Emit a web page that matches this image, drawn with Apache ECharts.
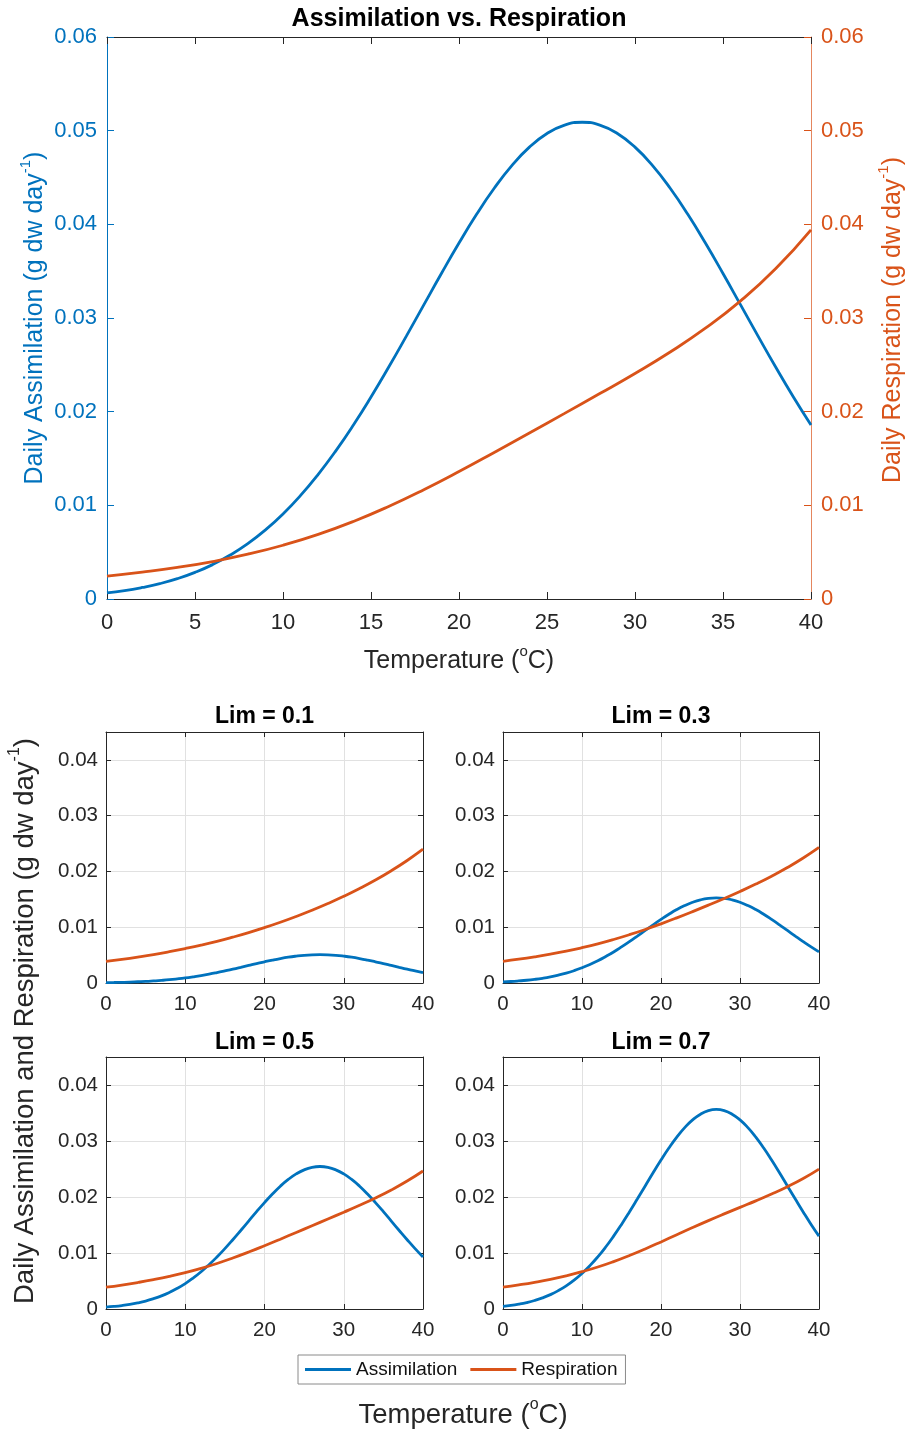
<!DOCTYPE html>
<html>
<head>
<meta charset="utf-8">
<title>Assimilation vs. Respiration</title>
<script src="https://cdn.jsdelivr.net/npm/echarts@6/dist/echarts.min.js"></script>
<style>
  html, body { margin: 0; padding: 0; background: #ffffff; }
  #chart { width: 909px; height: 1431px; }
</style>
</head>
<body>
<div id="chart"></div>
<script>
// Temperature samples (°C): 1-degree steps for assimilation, 2-degree steps for respiration
const tempAssim = [0, 1, 2, 3, 4, 5, 6, 7, 8, 9, 10, 11, 12, 13, 14, 15, 16, 17, 18, 19, 20,
                   21, 22, 23, 24, 25, 26, 27, 28, 29, 30, 31, 32, 33, 34, 35, 36, 37, 38, 39, 40];
const tempResp = [0, 2, 4, 6, 8, 10, 12, 14, 16, 18, 20, 22, 24, 26, 28, 30, 32, 34, 36, 38, 40];

// Unlimited case (top panel), g dw day^-1
const assimTop = [0.00066, 0.00090, 0.00123, 0.00164, 0.00217, 0.00284, 0.00367, 0.00469, 0.00591, 0.00737, 0.00908,
                  0.01106, 0.01331, 0.01582, 0.01858, 0.02157, 0.02474, 0.02804, 0.03140, 0.03475, 0.03800,
                  0.04107, 0.04385, 0.04627, 0.04824, 0.04970, 0.05060, 0.05090, 0.05060, 0.04970, 0.04824,
                  0.04627, 0.04385, 0.04107, 0.03800, 0.03475, 0.03140, 0.02804, 0.02474, 0.02157, 0.01858];
const respTop  = [0.00245, 0.00287, 0.00337, 0.00400, 0.00478, 0.00574, 0.00690, 0.00828, 0.00988, 0.01167, 0.01361,
                  0.01565, 0.01773, 0.01982, 0.02193, 0.02408, 0.02637, 0.02891, 0.03183, 0.03528, 0.03941];

// Limitation factors for the four small panels
const limits = ['Lim = 0.1', 'Lim = 0.3', 'Lim = 0.5', 'Lim = 0.7'];

const assimLim01 = [0.00007, 0.00009, 0.00012, 0.00016, 0.00022, 0.00028, 0.00037, 0.00047, 0.00059, 0.00074, 0.00091,
                    0.00111, 0.00133, 0.00158, 0.00186, 0.00216, 0.00247, 0.00280, 0.00314, 0.00348, 0.00380,
                    0.00411, 0.00439, 0.00463, 0.00482, 0.00497, 0.00506, 0.00509, 0.00506, 0.00497, 0.00482,
                    0.00463, 0.00439, 0.00411, 0.00380, 0.00348, 0.00314, 0.00280, 0.00247, 0.00216, 0.00186];
const respLim01  = [0.00387, 0.00424, 0.00465, 0.00510, 0.00561, 0.00617, 0.00678, 0.00746, 0.00822, 0.00904, 0.00993,
                    0.01089, 0.01193, 0.01305, 0.01425, 0.01554, 0.01694, 0.01846, 0.02013, 0.02196, 0.02398];

const assimLim03 = [0.00020, 0.00027, 0.00037, 0.00049, 0.00065, 0.00085, 0.00110, 0.00141, 0.00177, 0.00221, 0.00273,
                    0.00332, 0.00399, 0.00475, 0.00557, 0.00647, 0.00742, 0.00841, 0.00942, 0.01043, 0.01140,
                    0.01232, 0.01316, 0.01388, 0.01447, 0.01491, 0.01518, 0.01527, 0.01518, 0.01491, 0.01447,
                    0.01388, 0.01316, 0.01232, 0.01140, 0.01043, 0.00942, 0.00841, 0.00742, 0.00647, 0.00557];
const respLim03  = [0.00388, 0.00426, 0.00469, 0.00517, 0.00571, 0.00633, 0.00702, 0.00780, 0.00866, 0.00960, 0.01061,
                    0.01168, 0.01280, 0.01396, 0.01516, 0.01641, 0.01773, 0.01915, 0.02070, 0.02241, 0.02431];

const assimLim05 = [0.00033, 0.00045, 0.00061, 0.00082, 0.00109, 0.00142, 0.00184, 0.00234, 0.00296, 0.00369, 0.00454,
                    0.00553, 0.00665, 0.00791, 0.00929, 0.01078, 0.01237, 0.01402, 0.01570, 0.01738, 0.01900,
                    0.02053, 0.02193, 0.02313, 0.02412, 0.02485, 0.02530, 0.02545, 0.02530, 0.02485, 0.02412,
                    0.02313, 0.02193, 0.02053, 0.01900, 0.01738, 0.01570, 0.01402, 0.01237, 0.01078, 0.00929];
const respLim05  = [0.00389, 0.00428, 0.00473, 0.00524, 0.00582, 0.00649, 0.00726, 0.00813, 0.00911, 0.01017, 0.01130,
                    0.01247, 0.01367, 0.01487, 0.01607, 0.01728, 0.01852, 0.01983, 0.02126, 0.02285, 0.02464];

const assimLim07 = [0.00046, 0.00063, 0.00086, 0.00115, 0.00152, 0.00199, 0.00257, 0.00328, 0.00414, 0.00516, 0.00636,
                    0.00774, 0.00931, 0.01107, 0.01301, 0.01510, 0.01732, 0.01963, 0.02198, 0.02433, 0.02660,
                    0.02875, 0.03070, 0.03239, 0.03377, 0.03479, 0.03542, 0.03563, 0.03542, 0.03479, 0.03377,
                    0.03239, 0.03070, 0.02875, 0.02660, 0.02433, 0.02198, 0.01963, 0.01732, 0.01510, 0.01301];
const respLim07  = [0.00390, 0.00431, 0.00477, 0.00530, 0.00593, 0.00666, 0.00750, 0.00847, 0.00955, 0.01073, 0.01198,
                    0.01326, 0.01454, 0.01578, 0.01698, 0.01815, 0.01931, 0.02052, 0.02183, 0.02330, 0.02498];

// Tick values
const topTempTicks = [0, 5, 10, 15, 20, 25, 30, 35, 40];
const topRateTicks = [0, 0.01, 0.02, 0.03, 0.04, 0.05, 0.06];
const subTempTicks = [0, 10, 20, 30, 40];
const subRateTicks = [0, 0.01, 0.02, 0.03, 0.04];
const subRateMax = 0.045;

// ---------------------------------------------------------------------
const FONT = '"Liberation Sans", Arial, Helvetica, sans-serif';
const INK = '#262626';
const BLUE = '#0072BD';
const ORANGE = '#D95319';
const GRIDLINE = '#e1e1e1';
const LINE_W = 2.8;

const chart = echarts.init(document.getElementById('chart'), null, { renderer: 'canvas' });

const pairs = (xs, ys) => xs.map((t, i) => [t, ys[i]]);

function rateLabel(v) {
  if (Math.abs(v) < 1e-12) return '0';
  const r = Math.round(v * 100);
  if (Math.abs(v * 100 - r) > 1e-6) return '';
  return (r / 100).toFixed(2);
}

const grids = [
  { left: 107, top: 37, width: 704, height: 562 },
  { left: 106, top: 732, width: 317, height: 251 },
  { left: 503, top: 732, width: 316, height: 251 },
  { left: 106, top: 1057, width: 317, height: 252 },
  { left: 503, top: 1057, width: 316, height: 252 }
];

const xAxes = [];
const yAxes = [];

// top panel: temperature axis at bottom plus a plain mirror on top
const topX = {
  type: 'value', gridIndex: 0,
  min: topTempTicks[0], max: topTempTicks[topTempTicks.length - 1],
  interval: topTempTicks[1] - topTempTicks[0],
  axisLine: { show: true, onZero: false, lineStyle: { color: INK, width: 1 } },
  axisTick: { show: true, inside: true, length: 7, lineStyle: { color: INK, width: 1 } },
  splitLine: { show: false }
};
xAxes.push(Object.assign({}, topX, {
  position: 'bottom',
  axisLabel: { show: true, color: INK, fontSize: 22, fontFamily: FONT, margin: 13 }
}));
xAxes.push(Object.assign({}, topX, { position: 'top', axisLabel: { show: false } }));

function rateAxis(side, color, lineColor) {
  return {
    type: 'value', gridIndex: 0, position: side,
    min: topRateTicks[0], max: topRateTicks[topRateTicks.length - 1],
    interval: topRateTicks[1] - topRateTicks[0],
    axisLine: { show: true, onZero: false, lineStyle: { color: lineColor, width: 1 } },
    axisTick: { show: true, inside: true, length: 7, lineStyle: { color: color, width: 1 } },
    axisLabel: { show: true, color: color, fontSize: 22, fontFamily: FONT, margin: 10, formatter: rateLabel },
    splitLine: { show: false }
  };
}
yAxes.push(rateAxis('left', BLUE, BLUE));
yAxes.push(rateAxis('right', ORANGE, 'rgba(217,83,25,0.7)'));

// four small panels, each boxed with ticks on all sides
for (let k = 0; k < 4; k++) {
  const g = k + 1;
  const baseX = {
    type: 'value', gridIndex: g,
    min: subTempTicks[0], max: subTempTicks[subTempTicks.length - 1],
    interval: subTempTicks[1] - subTempTicks[0],
    axisLine: { show: true, onZero: false, lineStyle: { color: INK, width: 1 } },
    axisTick: { show: true, inside: true, length: 5, lineStyle: { color: INK, width: 1 } }
  };
  xAxes.push(Object.assign({}, baseX, {
    position: 'bottom',
    axisLabel: { show: true, color: INK, fontSize: 20.5, fontFamily: FONT, margin: 11 },
    splitLine: { show: true, lineStyle: { color: GRIDLINE, width: 1 } }
  }));
  xAxes.push(Object.assign({}, baseX, {
    position: 'top', axisLabel: { show: false }, splitLine: { show: false }
  }));
  const baseY = {
    type: 'value', gridIndex: g,
    min: subRateTicks[0], max: subRateMax,
    interval: subRateTicks[1] - subRateTicks[0],
    axisLine: { show: true, onZero: false, lineStyle: { color: INK, width: 1 } },
    axisTick: { show: true, inside: true, length: 5, lineStyle: { color: INK, width: 1 } }
  };
  yAxes.push(Object.assign({}, baseY, {
    position: 'left',
    axisLabel: { show: true, color: INK, fontSize: 20.5, fontFamily: FONT, margin: 8, formatter: rateLabel },
    splitLine: { show: true, lineStyle: { color: GRIDLINE, width: 1 } }
  }));
  yAxes.push(Object.assign({}, baseY, {
    position: 'right', axisLabel: { show: false }, splitLine: { show: false }
  }));
}

function curve(name, xs, ys, color, xi, yi) {
  return {
    type: 'line', name: name, data: pairs(xs, ys),
    xAxisIndex: xi, yAxisIndex: yi,
    smooth: true, symbol: 'none', showSymbol: false,
    lineStyle: { color: color, width: LINE_W },
    itemStyle: { color: color },
    z: 5, silent: true
  };
}

const series = [
  curve('Assimilation', tempAssim, assimTop, BLUE, 0, 0),
  curve('Respiration', tempResp, respTop, ORANGE, 0, 1)
];
const subAssim = [assimLim01, assimLim03, assimLim05, assimLim07];
const subResp = [respLim01, respLim03, respLim05, respLim07];
for (let k = 0; k < 4; k++) {
  const ax = 2 + 2 * k;
  series.push(curve('Assimilation', tempAssim, subAssim[k], BLUE, ax, ax));
  series.push(curve('Respiration', tempResp, subResp[k], ORANGE, ax, ax));
}

// text helpers
function plainText(x, y, text, size, weight, color) {
  return {
    type: 'text', x: x, y: y, silent: true,
    style: {
      text: text, fill: color, align: 'center', verticalAlign: 'middle',
      font: weight + ' ' + size + 'px ' + FONT
    }
  };
}
function supText(x, y, before, sup, after, size, supSize, color, rotate) {
  const el = {
    type: 'text', x: x, y: y, silent: true,
    style: {
      text: '{a|' + before + '}{s|' + sup + '}{a|' + after + '}',
      align: 'center', verticalAlign: 'middle',
      rich: {
        a: { fontSize: size, fontFamily: FONT, lineHeight: Math.round(size * 1.3), fill: color, color: color },
        s: { fontSize: supSize, fontFamily: FONT, lineHeight: supSize, verticalAlign: 'top', fill: color, color: color }
      }
    }
  };
  if (rotate) el.rotation = Math.PI / 2;
  return el;
}

const subCenters = [[264.5, 717], [661, 717], [264.5, 1043], [661, 1043]];
const graphics = [
  plainText(459, 19, 'Assimilation vs. Respiration', 25, 'bold', '#000000'),
  supText(35, 318, 'Daily Assimilation (g dw day', '-1', ')', 25, 15, BLUE, true),
  supText(893, 320, 'Daily Respiration (g dw day', '-1', ')', 25, 15, ORANGE, true),
  supText(459, 661, 'Temperature (', 'o', 'C)', 25, 15, INK, false),
  supText(25, 1021, 'Daily Assimilation and Respiration (g dw day', '-1', ')', 27.5, 16, INK, true),
  supText(463, 1415, 'Temperature (', 'o', 'C)', 27.5, 16, INK, false)
];
limits.forEach((t, k) => {
  graphics.push(plainText(subCenters[k][0], subCenters[k][1], t, 23, 'bold', '#000000'));
});

const option = {
  animation: false,
  backgroundColor: '#ffffff',
  textStyle: { fontFamily: FONT },
  grid: grids,
  xAxis: xAxes,
  yAxis: yAxes,
  legend: {
    data: ['Assimilation', 'Respiration'],
    left: 298, top: 1355,
    orient: 'horizontal',
    icon: 'rect',
    itemWidth: 46, itemHeight: 3, itemGap: 13,
    padding: [5, 8, 5, 7],
    borderColor: '#8a8a8a', borderWidth: 1, borderRadius: 0,
    backgroundColor: '#ffffff',
    selectedMode: false,
    textStyle: { fontSize: 19, color: '#111111', fontFamily: FONT }
  },
  series: series,
  graphic: graphics
};

chart.setOption(option);
</script>
</body>
</html>
